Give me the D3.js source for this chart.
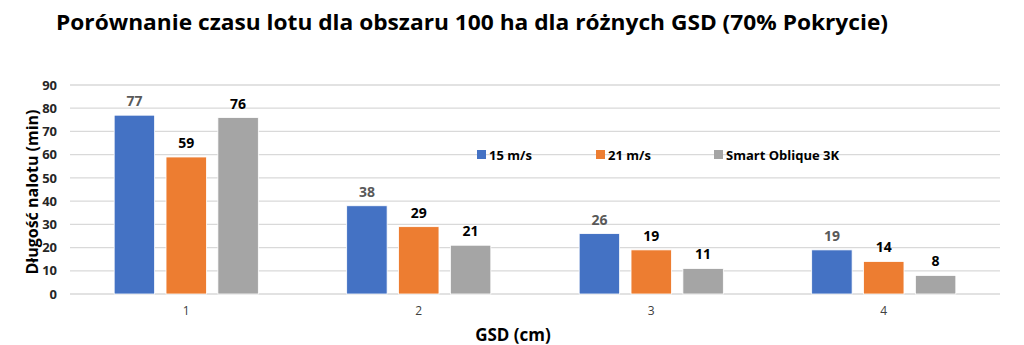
<!DOCTYPE html>
<html><head><meta charset="utf-8">
<script src="https://cdn.jsdelivr.net/npm/d3@7"></script>
<style>body{margin:0;background:#fff}svg{display:block}</style>
</head><body>
<svg id="c" width="1024" height="345"></svg>
<script>
const categories = ["1","2","3","4"];
const seriesNames = ["15 m/s","21 m/s","Smart Oblique 3K"];
const v15 = [77,38,26,19];
const v21 = [59,29,19,14];
const vSmart = [76,21,11,8];
const yTicks = [0,10,20,30,40,50,60,70,80,90];
const colors = ["#4472C4","#ED7D31","#A5A5A5"];
const labelColors = ["#595959","#000000","#000000"];
const series = [v15, v21, vSmart];

const svg = d3.select("#c");
const m = {l:70, r:1000, t:85, b:294};
const x = d3.scaleBand().domain(categories).range([m.l, m.r]).paddingInner(0.38).paddingOuter(0.19);
const xs = d3.scaleBand().domain(d3.range(3)).range([0, x.bandwidth()]).paddingInner(0.22);
const y = d3.scaleLinear().domain([0,90]).range([m.b, m.t]);
const font = "'Open Sans', sans-serif";

// grid
svg.append("g").selectAll("line").data(yTicks).join("line")
  .attr("x1", m.l).attr("x2", m.r)
  .attr("y1", d=>y(d)).attr("y2", d=>y(d))
  .attr("stroke", "#d9d9d9").attr("stroke-width", 1.3);

// y axis labels
const ya = svg.append("g").attr("transform", `translate(${m.l-13},0)`)
  .call(d3.axisLeft(y).tickValues(yTicks).tickSize(0).tickPadding(0));
ya.select(".domain").remove();
ya.selectAll("text").attr("font-family", font).attr("font-size", 13).attr("font-weight", "bold").attr("fill", "#262626");

// x axis labels
const xa = svg.append("g").attr("transform", `translate(0,${m.b+12})`)
  .call(d3.axisBottom(x).tickSize(0).tickPadding(0));
xa.select(".domain").remove();
xa.selectAll("text").attr("font-family", font).attr("font-size", 12).attr("fill", "#404040");

// bars
series.forEach((vals, si) => {
  const g = svg.append("g");
  g.selectAll("rect").data(vals).join("rect")
    .attr("x", (d,i)=>x(categories[i]) + xs(si))
    .attr("width", xs.bandwidth())
    .attr("y", d=>y(d)).attr("height", d=>y(0)-y(d))
    .attr("fill", colors[si]).attr("stroke", "#fff").attr("stroke-width", 0.8);
  g.selectAll("text").data(vals).join("text")
    .attr("x", (d,i)=>x(categories[i]) + xs(si) + xs.bandwidth()/2)
    .attr("y", d=>y(d) - 9)
    .attr("text-anchor", "middle")
    .attr("font-family", font).attr("font-size", 14).attr("font-weight", "bold")
    .attr("fill", labelColors[si]).text(d=>d);
});

// legend
const legX = [477, 596, 714];
const lg = svg.append("g");
seriesNames.forEach((n,i)=>{
  lg.append("rect").attr("x", legX[i]).attr("y", 150).attr("width", 9).attr("height", 9).attr("fill", colors[i]);
  lg.append("text").attr("x", legX[i]+12).attr("y", 159.5)
    .attr("font-family", font).attr("font-size", 13).attr("font-weight", "bold").attr("fill", "#000").text(n);
});

// title
svg.append("text").attr("x", 472).attr("y", 30).attr("text-anchor", "middle")
  .attr("font-family", font).attr("font-size", 22).attr("font-weight", "bold").attr("fill", "#000")
  .attr("textLength", 832).attr("lengthAdjust", "spacingAndGlyphs")
  .text("Porównanie czasu lotu dla obszaru 100 ha dla różnych GSD (70% Pokrycie)");

// axis titles
svg.append("text").attr("x", 513).attr("y", 341).attr("text-anchor", "middle")
  .attr("font-family", font).attr("font-size", 17).attr("font-weight", "bold").attr("fill", "#000").text("GSD (cm)");
svg.append("text").attr("transform", "translate(38,192) rotate(-90)").attr("text-anchor", "middle")
  .attr("font-family", font).attr("font-size", 16).attr("font-weight", "bold").attr("fill", "#000").text("Długość nalotu (min)");
</script>
</body></html>
